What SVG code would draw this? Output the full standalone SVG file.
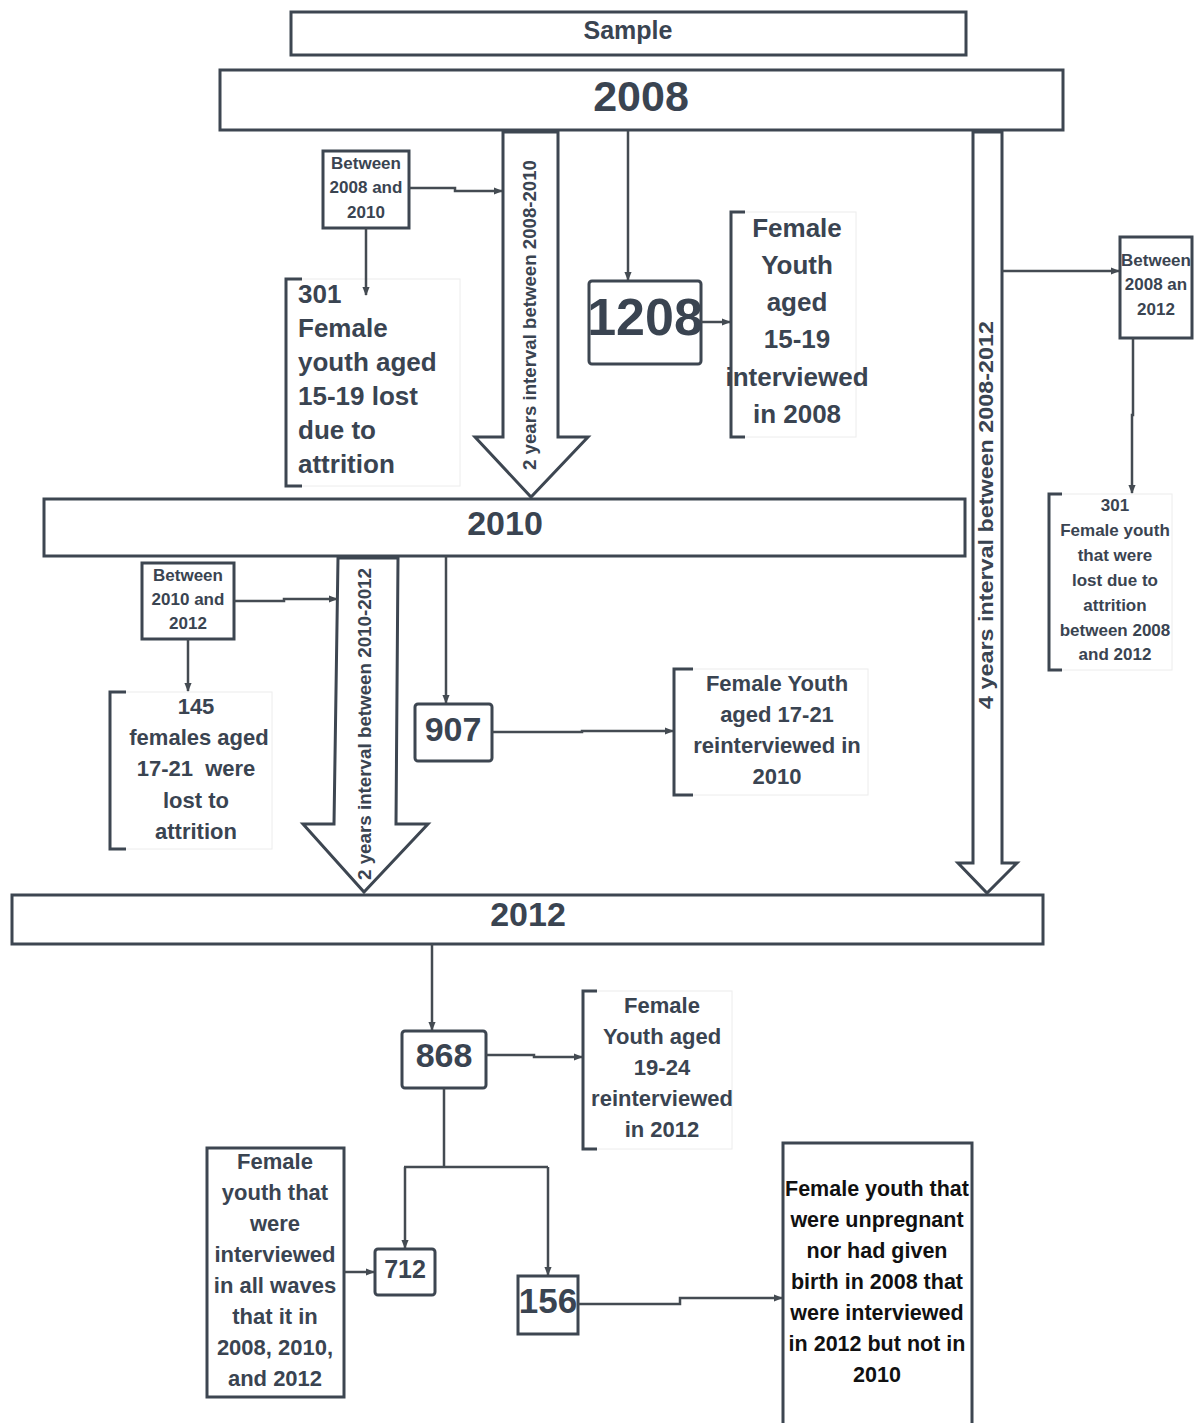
<svg xmlns="http://www.w3.org/2000/svg" width="1202" height="1423" viewBox="0 0 1202 1423">
<defs>
<marker id="ah" viewBox="0 0 10 10" refX="9" refY="5" markerWidth="9" markerHeight="9" markerUnits="userSpaceOnUse" orient="auto">
<path d="M0,1 L10,5 L0,9 Z" fill="#444b52"/>
</marker>
</defs>
<style>
text{font-family:"Liberation Sans",Arial,sans-serif;font-weight:bold;fill:#3a4451;}
.box{fill:#fff;stroke:#3d4651;stroke-width:3;}
.rbox{fill:#fff;stroke:#3d4651;stroke-width:3;}
.big{fill:#fff;stroke:#3d4651;stroke-width:3;stroke-linejoin:miter;}
.note{fill:#fff;stroke:#ececec;stroke-width:1;}
.brk{fill:none;stroke:#3d4651;stroke-width:3;}
.con{fill:none;stroke:#444b52;stroke-width:2.5;}
.arr{marker-end:url(#ah);}
.c{text-anchor:middle;}
.s17{font-size:17px;}
.s22{font-size:22px;}
.s26{font-size:26px;}
.dk{fill:#111;}
</style>

<g id="arrow-2008-2010">
<polygon class="big" points="503,132 558,132 558,437 588,437 531,497 475,437 503,437"/>
<text class="s17 c" transform="translate(536,315) rotate(-90)" textLength="310" lengthAdjust="spacingAndGlyphs" style="font-size:18px">2 years interval between 2008-2010</text>
</g>
<g id="arrow-2010-2012">
<polygon class="big" points="338,558 398,558 396,824 428,824 364,892 303,824 334,824"/>
<text class="c" transform="translate(371,724) rotate(-90)" textLength="312" lengthAdjust="spacingAndGlyphs" style="font-size:18px">2 years interval between 2010-2012</text>
</g>
<g id="arrow-2008-2012">
<polygon class="big" points="973,132 1002,132 1002,863 1017,863 987,893 958,863 973,863"/>
<text class="c" transform="translate(993,515) rotate(-90)" textLength="388" lengthAdjust="spacingAndGlyphs" style="font-size:21px">4 years interval between 2008-2012</text>
</g>

<g id="sample">
<rect class="box" x="291" y="12" width="675" height="43"/>
<text class="c" x="628" y="39" style="font-size:25px">Sample</text>
</g>
<g id="y2008">
<rect class="box" x="220" y="70" width="843" height="60"/>
<text class="c" x="641" y="111" style="font-size:43px">2008</text>
</g>
<g id="y2010">
<rect class="box" x="44" y="499" width="921" height="57"/>
<text class="c" x="505" y="535" style="font-size:34px">2010</text>
</g>
<g id="y2012">
<rect class="box" x="12" y="895" width="1031" height="49"/>
<text class="c" x="528" y="926" style="font-size:34px">2012</text>
</g>

<g id="between-2008-2010">
<rect class="box" x="323" y="151" width="86" height="77"/>
<text class="c s17" x="366" y="169">Between</text>
<text class="c s17" x="366" y="193">2008 and</text>
<text class="c s17" x="366" y="218">2010</text>
</g>
<g id="lost-301-a">
<rect class="note" x="286" y="279" width="174" height="207"/>
<path class="brk" d="M302,279 H286 V486 H302"/>
<text class="s26" x="298" y="303">301</text>
<text class="s26" x="298" y="337">Female</text>
<text class="s26" x="298" y="371">youth aged</text>
<text class="s26" x="298" y="405">15-19 lost</text>
<text class="s26" x="298" y="439">due to</text>
<text class="s26" x="298" y="473">attrition</text>
</g>
<g id="n1208">
<rect class="rbox" x="589" y="281" width="112" height="83" rx="3"/>
<text class="c" x="645" y="335" style="font-size:52px">1208</text>
</g>
<g id="interviewed-2008">
<rect class="note" x="731" y="212" width="125" height="225"/>
<path class="brk" d="M745,212 H731 V437 H745"/>
<text class="c s26" x="797" y="237">Female</text>
<text class="c s26" x="797" y="274">Youth</text>
<text class="c s26" x="797" y="311">aged</text>
<text class="c s26" x="797" y="348">15-19</text>
<text class="c s26" x="797" y="386">interviewed</text>
<text class="c s26" x="797" y="423">in 2008</text>
</g>
<g id="between-2008-2012">
<rect class="box" x="1120" y="237" width="72" height="101"/>
<text class="c s17" x="1156" y="266">Between</text>
<text class="c s17" x="1156" y="290">2008 an</text>
<text class="c s17" x="1156" y="315">2012</text>
</g>
<g id="lost-301-b">
<rect class="note" x="1049" y="494" width="123" height="176"/>
<path class="brk" d="M1062,494 H1049 V670 H1062"/>
<text class="c s17" x="1115" y="511">301</text>
<text class="c s17" x="1115" y="536">Female youth</text>
<text class="c s17" x="1115" y="561">that were</text>
<text class="c s17" x="1115" y="586">lost due to</text>
<text class="c s17" x="1115" y="611">attrition</text>
<text class="c s17" x="1115" y="636">between 2008</text>
<text class="c s17" x="1115" y="660">and 2012</text>
</g>
<g id="between-2010-2012">
<rect class="box" x="142" y="563" width="92" height="76"/>
<text class="c s17" x="188" y="581">Between</text>
<text class="c s17" x="188" y="605">2010 and</text>
<text class="c s17" x="188" y="629">2012</text>
</g>
<g id="lost-145">
<rect class="note" x="110" y="692" width="162" height="157"/>
<path class="brk" d="M126,692 H110 V849 H126"/>
<text class="c s22" x="196" y="714">145</text>
<text class="c s22" x="199" y="745">females aged</text>
<text class="c s22" x="196" y="776" xml:space="preserve">17-21  were</text>
<text class="c s22" x="196" y="808">lost to</text>
<text class="c s22" x="196" y="839">attrition</text>
</g>
<g id="n907">
<rect class="rbox" x="415" y="704" width="77" height="57" rx="3"/>
<text class="c" x="453" y="741" style="font-size:34px">907</text>
</g>
<g id="reinterviewed-2010">
<rect class="note" x="674" y="669" width="194" height="126"/>
<path class="brk" d="M693,669 H674 V795 H693"/>
<text class="c s22" x="777" y="691">Female Youth</text>
<text class="c s22" x="777" y="722">aged 17-21</text>
<text class="c s22" x="777" y="753">reinterviewed in</text>
<text class="c s22" x="777" y="784">2010</text>
</g>
<g id="n868">
<rect class="rbox" x="402" y="1031" width="84" height="57" rx="3"/>
<text class="c" x="444" y="1067" style="font-size:34px">868</text>
</g>
<g id="reinterviewed-2012">
<rect class="note" x="583" y="991" width="149" height="158"/>
<path class="brk" d="M597,991 H583 V1149 H597"/>
<text class="c s22" x="662" y="1013">Female</text>
<text class="c s22" x="662" y="1044">Youth aged</text>
<text class="c s22" x="662" y="1075">19-24</text>
<text class="c s22" x="662" y="1106">reinterviewed</text>
<text class="c s22" x="662" y="1137">in 2012</text>
</g>
<g id="all-waves">
<rect class="box" x="207" y="1148" width="137" height="249"/>
<text class="c s22" x="275" y="1169">Female</text>
<text class="c s22" x="275" y="1200">youth that</text>
<text class="c s22" x="275" y="1231">were</text>
<text class="c s22" x="275" y="1262">interviewed</text>
<text class="c s22" x="275" y="1293">in all waves</text>
<text class="c s22" x="275" y="1324">that it in</text>
<text class="c s22" x="275" y="1355">2008, 2010,</text>
<text class="c s22" x="275" y="1386">and 2012</text>
</g>
<g id="n712">
<rect class="rbox" x="375" y="1249" width="60" height="46" rx="3"/>
<text class="c" x="405" y="1278" style="font-size:25px">712</text>
</g>
<g id="n156">
<rect class="box" x="518" y="1276" width="60" height="58"/>
<text class="c" x="548" y="1313" style="font-size:35px">156</text>
</g>
<g id="not-2010">
<rect class="box" x="783" y="1143" width="189" height="300"/>
<text class="c s22 dk" x="877" y="1196" style="font-size:21.5px">Female youth that</text>
<text class="c s22 dk" x="877" y="1227" style="font-size:21.5px">were unpregnant</text>
<text class="c s22 dk" x="877" y="1258" style="font-size:21.5px">nor had given</text>
<text class="c s22 dk" x="877" y="1289" style="font-size:21.5px">birth in 2008 that</text>
<text class="c s22 dk" x="877" y="1320" style="font-size:21.5px">were interviewed</text>
<text class="c s22 dk" x="877" y="1351" style="font-size:21.5px">in 2012 but not in</text>
<text class="c s22 dk" x="877" y="1382" style="font-size:21.5px">2010</text>
</g>

<g id="connectors">
<path class="con arr" d="M409,188 H455 V191 H502"/>
<path class="con arr" d="M366,228 V295"/>
<path class="con arr" d="M628,131 V280"/>
<path class="con arr" d="M701,322 H730"/>
<path class="con arr" d="M1002,271 H1119"/>
<path class="con arr" d="M1133,338 V415 H1132 V493"/>
<path class="con arr" d="M234,601 H284 V599 H337"/>
<path class="con arr" d="M188,639 V691"/>
<path class="con arr" d="M446,556 V703"/>
<path class="con arr" d="M492,732 H582 V731 H673"/>
<path class="con arr" d="M432,944 V1030"/>
<path class="con arr" d="M486,1055 H534 V1057 H582"/>
<path class="con" d="M444,1088 V1167 M404,1167 H548"/>
<path class="con arr" d="M405,1167 V1248"/>
<path class="con arr" d="M548,1167 V1275"/>
<path class="con arr" d="M344,1272 H374"/>
<path class="con arr" d="M578,1304 H680 V1298 H782"/>
</g>
</svg>
